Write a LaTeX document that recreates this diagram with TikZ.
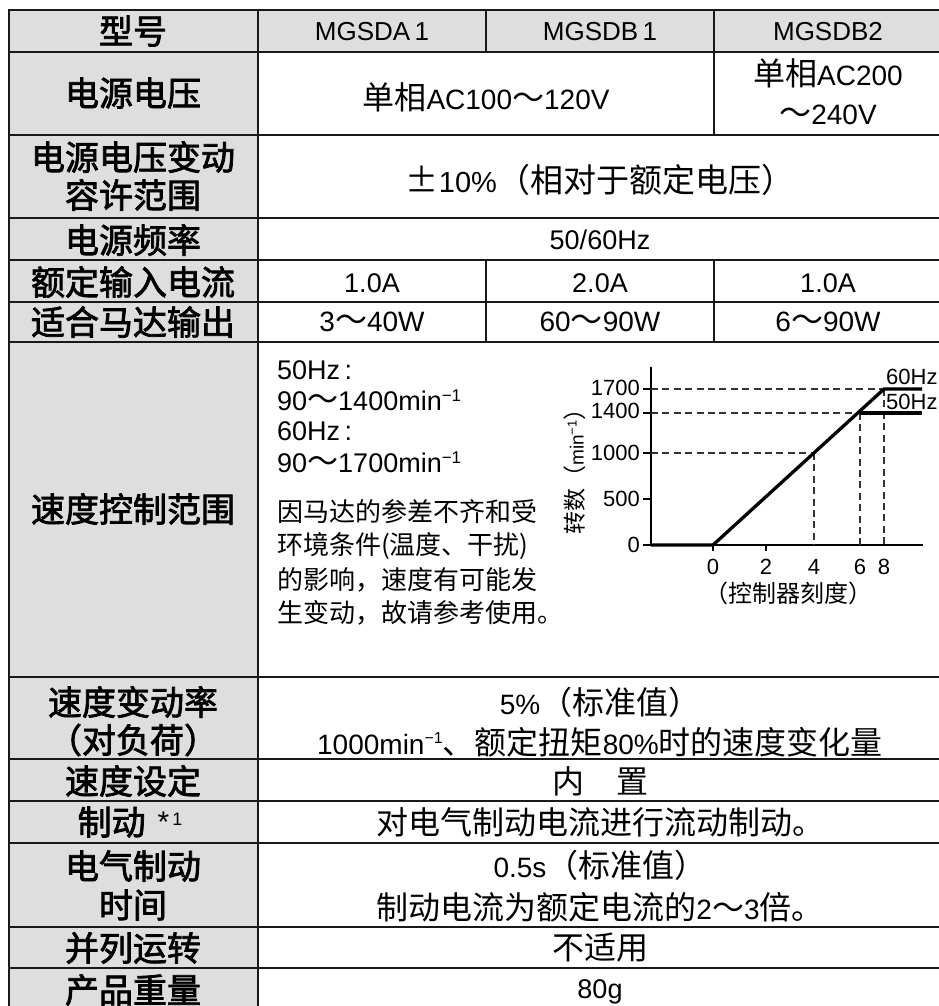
\documentclass[tikz,border=0pt]{standalone}
\usepackage{fontspec}
\setmainfont{Noto Sans CJK SC}
\newfontfamily\cjk{Noto Sans CJK SC}
\newfontfamily\cjkb[FakeBold=2.2]{Noto Sans CJK SC}
\newfontfamily\lat{Liberation Sans}
\newcommand\fs[1]{\fontsize{#1}{#1}\selectfont}
\newcommand\minus[2]{\raisebox{#1}{\lat\fs{#2}−1}}
\definecolor{hdr}{RGB}{222,222,222}
\definecolor{gridc}{RGB}{25,25,25}
\tikzset{
  grid/.style={line width=2pt, draw=gridc},
  hd/.style={font=\cjkb\fs{34}, inner sep=0pt},
  dt/.style={font=\cjk\fs{32}, inner sep=0pt},
  dl/.style={font=\lat\fs{27}, inner sep=0pt},
  note/.style={font=\cjk\fs{26}, inner sep=0pt, anchor=west},
  hz/.style={anchor=west, inner sep=0pt, font=\lat\fs{27}},
  ax/.style={line width=1.3pt, draw=black},
  curve/.style={line width=3.3pt, draw=black, line join=miter},
  guide/.style={line width=1.2pt, draw=black!80, dash pattern=on 7pt off 4.4pt},
  cl/.style={font=\lat\fs{22}, inner sep=0pt}
}
\begin{document}
\begin{tikzpicture}[x=1pt,y=-1pt]
\useasboundingbox (0,0) rectangle (939,1006);
\clip (0,0) rectangle (939,1006);
% fills
\fill[hdr] (9,10) rectangle (943,52);
\fill[hdr] (9,52) rectangle (258,1012);
% grid
\draw[grid] (9,10) rectangle (943,1010);
\foreach \yy in {52,135,218,260,302,342,677,759,801,843,927,968}
  \draw[grid] (9,\yy) -- (943,\yy);
\draw[grid] (258,10) -- (258,1010);
\draw[grid] (486,10) -- (486,52);
\draw[grid] (486,260) -- (486,342);
\draw[grid] (714,10) -- (714,135);
\draw[grid] (714,260) -- (714,342);

% header column
\node[hd] (h0) at (133,31) {型号};
\node[hd] (h1) at (133,93) {电源电压};
\node[hd] (h2a) at (133,157) {电源电压变动};
\node[hd] (h2b) at (133,195) {容许范围};
\node[hd] (h3) at (133,240) {电源频率};
\node[hd] (h4) at (133,282) {额定输入电流};
\node[hd] (h5) at (133,322) {适合马达输出};
\node[hd] (h6) at (133,509) {速度控制范围};
\node[hd] (h7a) at (133,702) {速度变动率};
\node[hd] (h7b) at (133,740) {（对负荷）};
\node[hd] (h8) at (133,781) {速度设定};
\node[hd] (h9) at (130,822) {制动\hspace{12pt}\raisebox{2pt}{\lat\fs{30}*}\hspace{3pt}\raisebox{9pt}{\lat\fs{18}1}};
\node[hd] (h10a) at (133,866) {电气制动};
\node[hd] (h10b) at (133,905) {时间};
\node[hd] (h11) at (133,948) {并列运转};
\node[hd] (h12) at (133,990) {产品重量};

% header row
\node[dl, font=\lat\fs{26}] (m1) at (372,32) {MGSDA\,1};
\node[dl, font=\lat\fs{26}] (m2) at (600,32) {MGSDB\,1};
\node[dl, font=\lat\fs{26}] (m3) at (828,32) {MGSDB2};

% row: supply voltage
\node[dt] (v1) at (486,97) {单相{\lat\fs{28}AC100}～{\lat\fs{28}120V}};
\node[dt] (v2a) at (828,73) {单相{\lat\fs{28}AC200}};
\node[dt] (v2b) at (828,115) {～{\lat\fs{28}240V}};
% tolerance
\node[dt, font=\cjk\fs{33}] (tol) at (600,180) {±{\lat\fs{29}10\%}（相对于额定电压）};
% frequency
\node[dl] (fq) at (600,240) {50/60Hz};
% current
\node[dl] (c1) at (372,283) {1.0A};
\node[dl] (c2) at (600,283) {2.0A};
\node[dl] (c3) at (828,283) {1.0A};
% motor output
\node[dt] (o1) at (372,322) {{\lat\fs{28}3}～{\lat\fs{28}40W}};
\node[dt] (o2) at (600,322) {{\lat\fs{28}60}～{\lat\fs{28}90W}};
\node[dt] (o3) at (828,322) {{\lat\fs{28}6}～{\lat\fs{28}90W}};

% speed range text
\node[hz] (s1) at (277,370) {50Hz\,:};
\node[hz] (s2) at (277,400) {90{\cjk\fs{31}～}1400min\minus{9pt}{17}};
\node[hz] (s3) at (277,431) {60Hz\,:};
\node[hz] (s4) at (277,462) {90{\cjk\fs{31}～}1700min\minus{9pt}{17}};
\node[note] (p1) at (277,512) {因马达的参差不齐和受};
\node[note] (p2) at (277,546) {环境条件(温度、干扰)};
\node[note] (p3) at (277,580) {的影响，速度有可能发};
\node[note] (p4) at (277,613) {生变动，故请参考使用。};

% chart
\coordinate (o) at (651,545);
\coordinate (ytop) at (651,367);
\coordinate (xend) at (923,545);
\coordinate (z0) at (713,545);
\coordinate (k60) at (884,389);
\coordinate (k50) at (860,413);
\coordinate (k40) at (814,453);
\coordinate (e60) at (922,389);
\coordinate (e50) at (922,413);
\coordinate (t2) at (766,545);
\draw[ax] (ytop) -- (o) -- (xend);
\foreach \yy in {389,413,453,499,545} \draw[ax] (643,\yy) -- (651,\yy);
\draw[ax] (t2) -- ++(0,6);
\draw[ax] (z0) -- ++(0,6);
\draw[guide] (651,389) -- (k60);
\draw[guide] (651,413) -- (k50);
\draw[guide] (651,453) -- (k40);
\draw[guide] (k40) -- (814,545);
\draw[guide] (k50) -- (860,545);
\draw[guide] (k60) -- (884,545);
\draw[curve] (o) -- (z0) -- (k60) -- (e60);
\draw[curve] (k50) -- (e50);
\node[cl, anchor=east] (y1700) at (640,388) {1700};
\node[cl, anchor=east] (y1400) at (640,411) {1400};
\node[cl, anchor=east] (y1000) at (640,453) {1000};
\node[cl, anchor=east] (y500) at (640,499) {500};
\node[cl, anchor=east] (y0) at (640,545) {0};
\node[cl] (x0) at (713,567) {0};
\node[cl] (x2) at (766,567) {2};
\node[cl] (x4) at (814,567) {4};
\node[cl] (x6) at (860,567) {6};
\node[cl] (x8) at (884,567) {8};
\node[cl, anchor=west] (l60) at (886,377) {60Hz};
\node[cl, anchor=west] (l50) at (886,402) {50Hz};
\node[inner sep=0pt, font=\cjk\fs{24}] (xl) at (788,593) {（控制器刻度）};
\node[inner sep=0pt, font=\cjk\fs{23}, rotate=90] (yl) at (575,466) {转数（{\lat\fs{19}min}\minus{7pt}{13}）};

% lower rows
\node[dt] (r7a) at (600,702) {{\lat\fs{28}5\%}（标准值）};
\node[dt] (r7b) at (600,742) {{\lat\fs{28}1000min}\minus{11pt}{16}、额定扭矩{\lat\fs{28}80\%}时的速度变化量};
\node[dt] (r8) at (600,781) {内　置};
\node[dt] (r9) at (600,822) {对电气制动电流进行流动制动。};
\node[dt] (r10a) at (600,865) {{\lat\fs{28}0.5s}（标准值）};
\node[dt] (r10b) at (600,907) {制动电流为额定电流的{\lat\fs{28}2}～{\lat\fs{28}3}倍。};
\node[dt] (r11) at (600,948) {不适用};
\node[dl] (r12) at (600,992) {80g};
\end{tikzpicture}
\end{document}
